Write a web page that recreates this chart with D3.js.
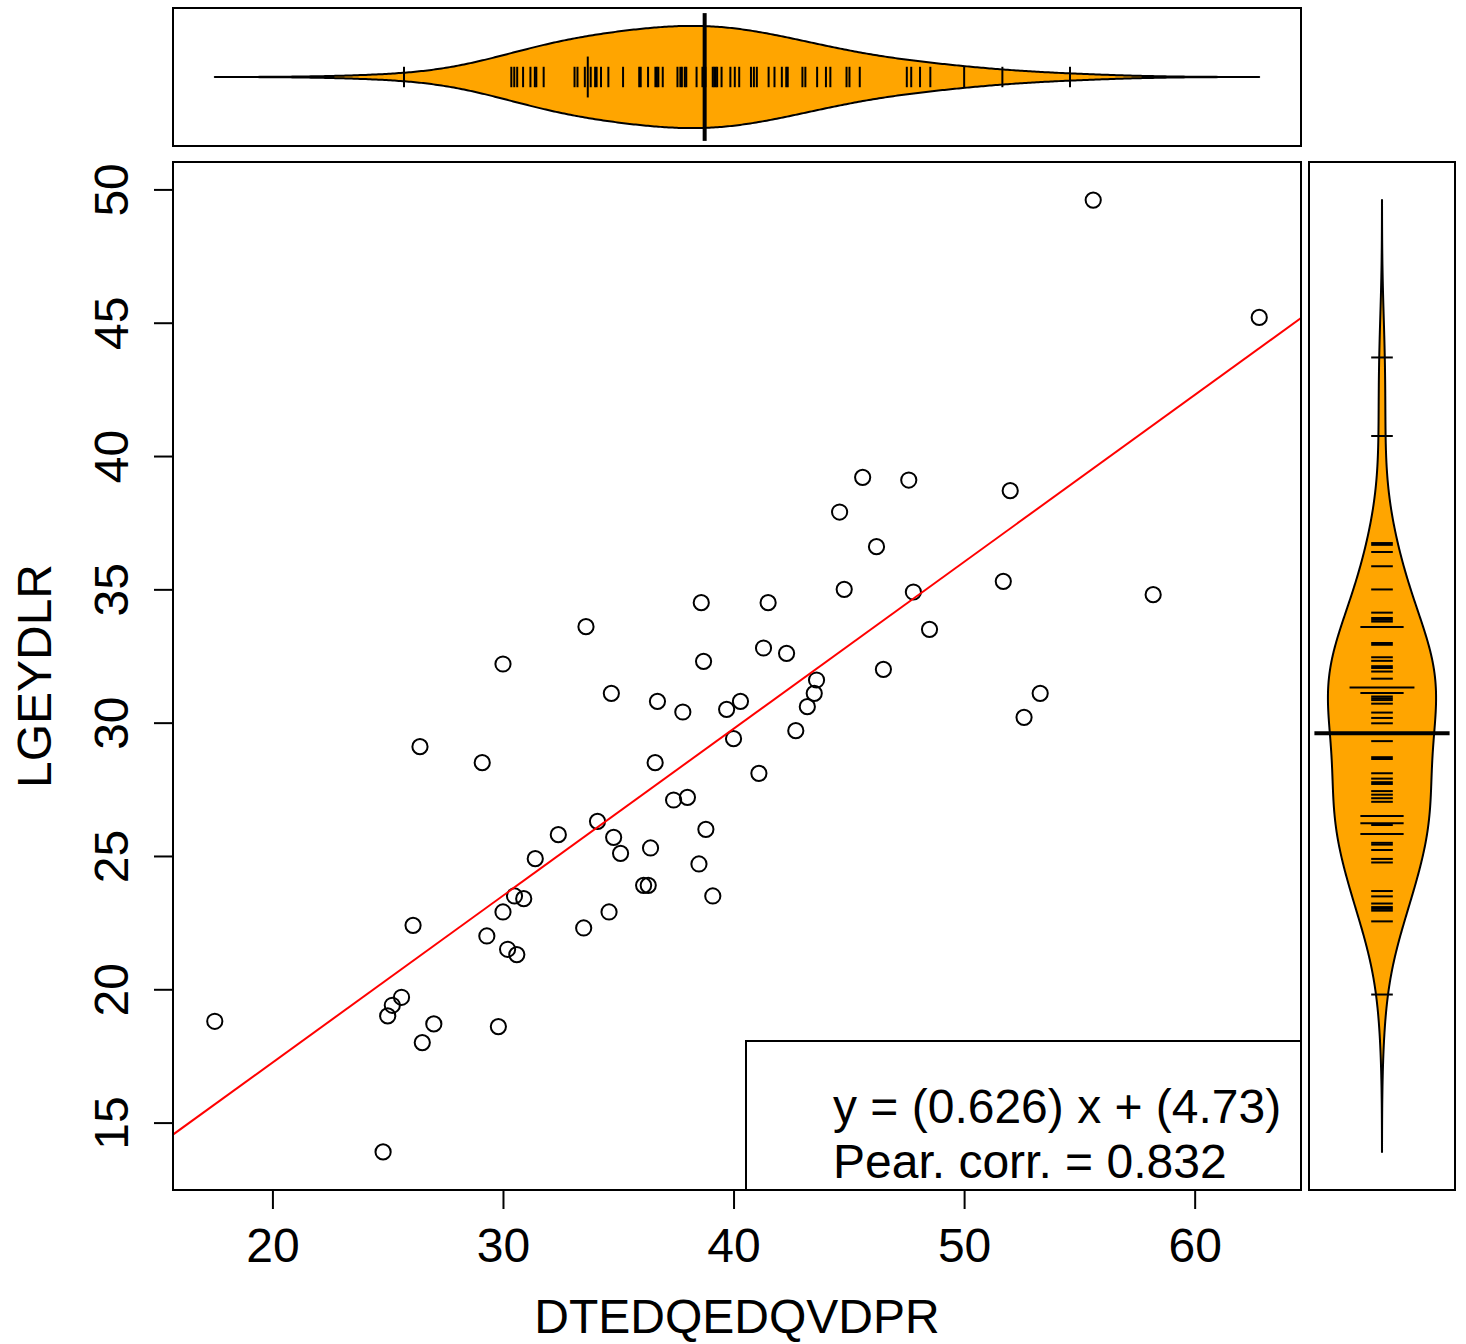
<!DOCTYPE html>
<html>
<head>
<meta charset="utf-8">
<script src="https://cdn.jsdelivr.net/npm/d3@7"></script>
<style>
  html, body { margin: 0; padding: 0; background: #ffffff; }
  svg { display: block; }
  text { font-family: "Liberation Sans", Arimo, Arial, Helvetica, sans-serif; fill: #000; }
</style>
</head>
<body>
<svg id="chart" width="1466" height="1344"></svg>
<script>
// ---------------- data ----------------
const xName = "DTEDQEDQVDPR";
const yName = "LGEYDLR";
const xValues = [17.5, 24.8, 25.0, 25.2, 25.6, 26.1, 26.4, 26.5, 27.0, 29.1, 29.3, 29.8, 30.0, 30.0, 30.2, 30.5, 30.6, 30.9, 31.4, 32.4, 33.5, 33.6, 34.1, 34.6, 34.7, 34.8, 35.1, 36.1, 36.3, 36.4, 36.6, 36.7, 37.4, 37.8, 38.0, 38.5, 38.6, 38.7, 38.8, 39.1, 39.7, 40.0, 40.3, 41.1, 41.3, 41.5, 42.3, 42.7, 43.2, 43.5, 43.6, 44.6, 44.8, 45.6, 46.2, 46.5, 47.6, 47.8, 48.5, 51.7, 52.0, 52.6, 53.3, 55.6, 58.2, 62.8];
const yValues = [18.8, 13.9, 19.0, 19.4, 19.7, 22.4, 29.1, 18.0, 18.7, 28.5, 22.0, 18.6, 32.2, 22.9, 21.5, 23.5, 21.3, 23.4, 24.9, 25.8, 22.3, 33.6, 26.3, 22.9, 31.1, 25.7, 25.1, 23.9, 23.9, 25.3, 28.5, 30.8, 27.1, 30.4, 27.2, 24.7, 34.5, 32.3, 26.0, 23.5, 30.5, 29.4, 30.8, 28.1, 32.8, 34.5, 32.6, 29.7, 30.6, 31.1, 31.6, 37.9, 35.0, 39.2, 36.6, 32.0, 39.1, 34.9, 33.5, 35.3, 38.7, 30.2, 31.1, 49.6, 34.8, 45.2];
const xTicks = [20, 30, 40, 50, 60];
const yTicks = [15, 20, 25, 30, 35, 40, 45, 50];
const fitSlope = 0.626;
const fitIntercept = 4.73;
const legendLines = ["y = (0.626) x + (4.73)", "Pear. corr. = 0.832"];
// kernel bandwidths of the bean densities
const bwX = 4.29;
const bwY = 2.94;

// ---------------- layout ----------------
const FONT = 48;
const main = { left: 173, right: 1301, top: 162, bottom: 1190 };
const topP = { left: 173, right: 1301, top: 8, bottom: 146 };
const rightP = { left: 1309, right: 1455, top: 162, bottom: 1190 };
const BEAN = "#FFA500";

const svg = d3.select("#chart");
svg.append("rect").attr("width", 1466).attr("height", 1344).attr("fill", "#fff");

function pad(ext) { const r = ext[1] - ext[0]; return [ext[0] - 0.04 * r, ext[1] + 0.04 * r]; }

const x = d3.scaleLinear().domain(pad(d3.extent(xValues))).range([main.left, main.right]);
const y = d3.scaleLinear().domain(pad(d3.extent(yValues))).range([main.bottom, main.top]);

// ---------------- main scatter ----------------
svg.append("clipPath").attr("id", "clipMain").append("rect")
  .attr("x", main.left).attr("y", main.top)
  .attr("width", main.right - main.left).attr("height", main.bottom - main.top);

const pts = xValues.map((v, i) => ({ x: v, y: yValues[i] }));
svg.append("g").selectAll("circle").data(pts).join("circle")
  .attr("cx", d => x(d.x)).attr("cy", d => y(d.y)).attr("r", 7.6)
  .attr("fill", "none").attr("stroke", "#000").attr("stroke-width", 2);

const xd = x.domain();
svg.append("line").attr("clip-path", "url(#clipMain)")
  .attr("x1", x(xd[0])).attr("y1", y(fitSlope * xd[0] + fitIntercept))
  .attr("x2", x(xd[1])).attr("y2", y(fitSlope * xd[1] + fitIntercept))
  .attr("stroke", "#FF0000").attr("stroke-width", 2);

// legend
const lg = svg.append("g");
lg.append("rect").attr("x", 746).attr("y", 1041).attr("width", main.right - 746).attr("height", main.bottom - 1041)
  .attr("fill", "#fff").attr("stroke", "#000").attr("stroke-width", 2);
lg.selectAll("text").data(legendLines).join("text")
  .attr("x", 833).attr("y", (d, i) => 1123 + i * 55)
  .attr("font-size", FONT).text(d => d);

// box
svg.append("rect").attr("x", main.left).attr("y", main.top)
  .attr("width", main.right - main.left).attr("height", main.bottom - main.top)
  .attr("fill", "none").attr("stroke", "#000").attr("stroke-width", 2);

// axes
const gx = svg.append("g").attr("transform", `translate(0,${main.bottom})`)
  .call(d3.axisBottom(x).tickValues(xTicks).tickSize(19).tickPadding(19).tickFormat(d3.format("d")));
gx.select(".domain").remove();
gx.selectAll(".tick line").attr("stroke", "#000").attr("stroke-width", 2);
gx.selectAll(".tick text").attr("font-size", FONT).attr("font-family", null).attr("fill", "#000");

const gy = svg.append("g").attr("transform", `translate(${main.left},0)`)
  .call(d3.axisLeft(y).tickValues(yTicks).tickSize(19).tickFormat(d3.format("d")));
gy.select(".domain").remove();
gy.selectAll(".tick line").attr("stroke", "#000").attr("stroke-width", 2);
gy.selectAll(".tick text").attr("font-size", FONT).attr("font-family", null).attr("fill", "#000")
  .attr("transform", "rotate(-90)").attr("x", 0).attr("y", -45).attr("dy", 0)
  .attr("text-anchor", "middle");

svg.append("text").attr("x", (main.left + main.right) / 2).attr("y", 1333)
  .attr("text-anchor", "middle").attr("font-size", FONT).text(xName);
svg.append("text").attr("transform", `translate(51,${(main.top + main.bottom) / 2}) rotate(-90)`)
  .attr("text-anchor", "middle").attr("font-size", FONT).text(yName);

// ---------------- beans ----------------
function kde(values, bw, n) {
  const lo = d3.min(values) - 3 * bw, hi = d3.max(values) + 3 * bw;
  const k = 1 / (values.length * bw * Math.sqrt(2 * Math.PI));
  return d3.range(n).map(i => {
    const g = lo + (hi - lo) * i / (n - 1);
    const dens = k * d3.sum(values, v => Math.exp(-0.5 * ((g - v) / bw) ** 2));
    return { v: g, d: dens };
  });
}

function bean(values, bw, panel, horizontal) {
  const dens = kde(values, bw, 512);
  const ext = [dens[0].v, dens[dens.length - 1].v];
  const maxD = d3.max(dens, d => d.d);
  const along = d3.scaleLinear().domain(pad(ext))
    .range(horizontal ? [panel.left, panel.right] : [panel.bottom, panel.top]);
  const across = d3.scaleLinear().domain([0.46, 1.54])
    .range(horizontal ? [panel.bottom, panel.top] : [panel.left, panel.right]);
  const g = svg.append("g");
  const half = d => 0.4 * d.d / maxD;
  const poly = dens.map(d => [d.v, 1 + half(d)]).concat(dens.slice().reverse().map(d => [d.v, 1 - half(d)]));
  const line = d3.line()
    .x(p => horizontal ? along(p[0]) : across(p[1]))
    .y(p => horizontal ? across(p[1]) : along(p[0]));
  g.append("path").attr("d", line(poly) + "Z")
    .attr("fill", BEAN).attr("stroke", "#000").attr("stroke-width", 2).attr("stroke-linejoin", "round");

  const counts = d3.rollups(values, v => v.length, v => v);
  g.selectAll("line.bl").data(counts).join("line").attr("class", "bl")
    .each(function ([v, c]) {
      const a = along(v), h = 0.08 * c;
      const s = d3.select(this);
      if (horizontal) s.attr("x1", a).attr("x2", a).attr("y1", across(1 - h)).attr("y2", across(1 + h));
      else s.attr("y1", a).attr("y2", a).attr("x1", across(1 - h)).attr("x2", across(1 + h));
    })
    .attr("stroke", "#000").attr("stroke-width", 2);

  const m = along(d3.mean(values));
  const ml = g.append("line").attr("stroke", "#000").attr("stroke-width", 4);
  if (horizontal) ml.attr("x1", m).attr("x2", m).attr("y1", across(0.5)).attr("y2", across(1.5));
  else ml.attr("y1", m).attr("y2", m).attr("x1", across(0.5)).attr("x2", across(1.5));

  svg.append("rect").attr("x", panel.left).attr("y", panel.top)
    .attr("width", panel.right - panel.left).attr("height", panel.bottom - panel.top)
    .attr("fill", "none").attr("stroke", "#000").attr("stroke-width", 2);
}

bean(xValues, bwX, topP, true);
bean(yValues, bwY, rightP, false);
</script>
</body>
</html>
